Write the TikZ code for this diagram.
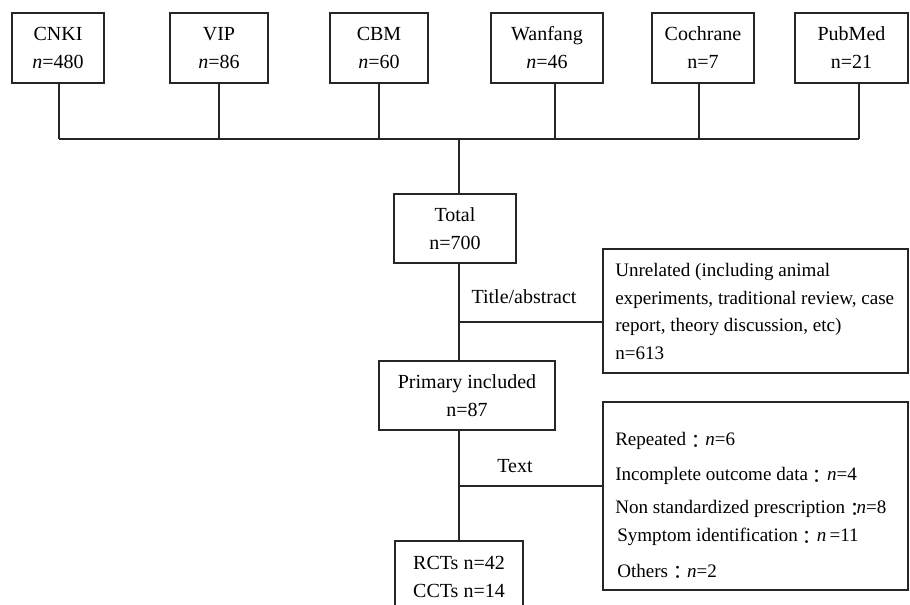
\documentclass[tikz,border=0pt]{standalone}
\usepackage{fontspec}
\setmainfont{Liberation Serif}
\newfontfamily\cjk{Noto Sans CJK TC}
\newcommand\fcolon{\raisebox{-0.14em}{\cjk：}}
\begin{document}
\begin{tikzpicture}[x=0.75pt,y=-0.75pt,
  box/.style={draw=black!85,line width=0.8pt,inner sep=0pt,align=center,
    font=\fontsize{15}{21}\selectfont},
  lbl/.style={inner sep=0pt,font=\fontsize{15}{21}\selectfont},
  ex/.style={inner sep=0pt,anchor=west,font=\fontsize{14.3}{20.5}\selectfont},
  conn/.style={draw=black!85,line width=0.8pt}]
\clip (0,0) rectangle (910,605);
\fill[white] (0,0) rectangle (910,605);
% top boxes
\node[box,minimum width=92*0.75pt,minimum height=70*0.75pt] (cnki) at (58,48) {CNKI\\\textit{n}=480};
\node[box,minimum width=98*0.75pt,minimum height=70*0.75pt] (vip) at (219,48) {VIP\\\textit{n}=86};
\node[box,minimum width=98*0.75pt,minimum height=70*0.75pt] (cbm) at (379,48) {CBM\\\textit{n}=60};
\node[box,minimum width=112*0.75pt,minimum height=70*0.75pt] (wan) at (547,48) {Wanfang\\\textit{n}=46};
\node[box,minimum width=102*0.75pt,minimum height=70*0.75pt] (coch) at (703,48) {Cochrane\\n=7};
\node[box,minimum width=113*0.75pt,minimum height=70*0.75pt] (pub) at (851.5,48) {PubMed\\n=21};
% bus junctions
\coordinate (j1) at (59,139);
\coordinate (j2) at (219,139);
\coordinate (j3) at (379,139);
\coordinate (j4) at (555,139);
\coordinate (j5) at (699,139);
\coordinate (j6) at (859,139);
\coordinate (jc) at (459,139);
% middle column
\node[box,minimum width=122*0.75pt,minimum height=69*0.75pt] (total) at (455,228.5) {Total\\n=700};
\node[box,minimum width=176*0.75pt,minimum height=69*0.75pt] (prim) at (467,395.5) {Primary included\\n=87};
\node[box,minimum width=128*0.75pt,minimum height=72*0.75pt] (rct) at (459,577) {RCTs n=42\\CCTs n=14};
\coordinate (b1) at (459,322);
\coordinate (b2) at (459,486);
% labels
\node[lbl] (tlab) at (524,297) {Title/abstract};
\node[lbl] (xlab) at (515,466) {Text};
% exclusion boxes
\node[box,minimum width=305*0.75pt,minimum height=124*0.75pt] (unrel) at (755.5,311) {};
\node[ex,align=left,font=\fontsize{14.3}{20.8}\selectfont] (unreltxt) at (615,311.5) {Unrelated (including animal\\experiments, traditional review, case\\report, theory discussion, etc)\\n=613};
\node[box,minimum width=305*0.75pt,minimum height=188*0.75pt] (excl) at (755.5,496) {};
\node[ex] (e1) at (615,441) {Repeated\fcolon\textit{n}=6};
\node[ex] (e2) at (615,476) {Incomplete outcome data\fcolon\textit{n}=4};
\node[ex] (e3) at (615,509) {Non standardized prescription\fcolon\kern-0.4em\textit{n}=8};
\node[ex] (e4) at (617,537) {Symptom identification\fcolon\textit{n}\,=11};
\node[ex] (e5) at (617,572) {Others\fcolon\textit{n}=2};
% connectors
\draw[conn] (cnki.south -| j1) -- (j1);
\draw[conn] (vip.south -| j2) -- (j2);
\draw[conn] (cbm.south -| j3) -- (j3);
\draw[conn] (wan.south -| j4) -- (j4);
\draw[conn] (coch.south -| j5) -- (j5);
\draw[conn] (pub.south -| j6) -- (j6);
\draw[conn] (j1) -- (j6);
\draw[conn] (jc) -- (total.north -| jc);
\draw[conn] (total.south -| jc) -- (prim.north -| jc);
\draw[conn] (b1) -- (unrel.west |- b1);
\draw[conn] (prim.south -| jc) -- (rct.north -| jc);
\draw[conn] (b2) -- (excl.west |- b2);
\end{tikzpicture}
\end{document}
